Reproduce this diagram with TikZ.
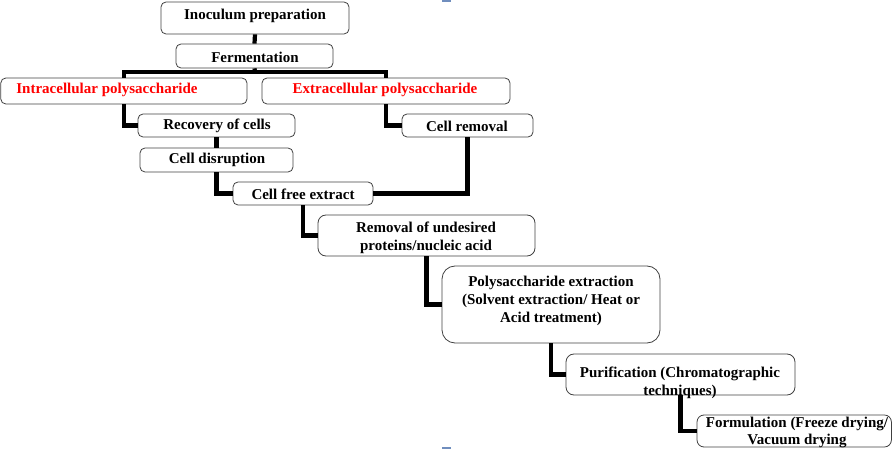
\documentclass[tikz,border=0pt]{standalone}
\usepackage{fontspec}
\setmainfont{Liberation Serif}
\usetikzlibrary{calc}
\definecolor{markblue}{RGB}{112,142,190}
\tikzset{
  box/.style={draw=black!75, line width=0.8pt, rounded corners=5pt, inner sep=0pt},
  txt/.style={font=\fontsize{15}{18}\selectfont\bfseries, align=center, inner sep=0pt, text=black},
  redtxt/.style={txt, text=red},
  conn/.style={line width=4.2pt, black},
}
\newcommand{\mkbox}[6][]{% name, x1, y1, x2, y2
  \node[box,#1, minimum width={(#5-#3)*1pt}, minimum height={(#6-#4)*1pt}] (#2) at ({(#3+#5)/2},{(#4+#6)/2}) {};}
\begin{document}
\begin{tikzpicture}[x=1pt,y=-1pt]
\useasboundingbox (0,0) rectangle (892,449);
\fill[markblue] (442,0) rectangle (451,2.5);
\fill[markblue] (442,446.5) rectangle (451,448.5);
% boxes
\mkbox{inoc}{161}{2}{349}{34}
\mkbox{ferm}{176}{44}{333}{68}
\mkbox{intra}{0.8}{78}{247}{104}
\mkbox{extra}{262}{78}{510}{104}
\mkbox{recov}{138}{114}{295}{137}
\mkbox{cellrem}{402}{114}{533}{137}
\mkbox{disr}{140}{148}{293}{172}
\mkbox{cfe}{233}{182}{373}{205}
\mkbox[rounded corners=8pt]{remov}{318}{215}{535}{256}
\mkbox[rounded corners=13pt]{poly}{442}{266}{660}{343}
\mkbox[rounded corners=8pt]{purif}{566}{354}{795}{395}
\mkbox[rounded corners=7pt]{form}{697}{415}{891.4}{447}
% texts
\node[txt] (inoc-t) at (255,16) {Inoculum preparation};
\node[txt] (ferm-t) at (255,57) {Fermentation};
\node[redtxt] (intra-t) at (107,90) {Intracellular polysaccharide};
\node[redtxt] (extra-t) at (385,90) {Extracellular polysaccharide};
\node[txt] (recov-t) at (217,126) {Recovery of cells};
\node[txt] (cellrem-t) at (467,126) {Cell removal};
\node[txt] (disr-t) at (217,160) {Cell disruption};
\node[txt] (cfe-t) at (303,194) {Cell free extract};
\node[txt] (remov-t) at (426,238) {Removal of undesired\\proteins/nucleic acid};
\node[txt] (poly-t) at (551,301) {Polysaccharide extraction\\(Solvent extraction/ Heat or\\Acid treatment)};
\node[txt] (purif-t) at (680,383) {Purification (Chromatographic\\techniques)};
\node[txt, font=\fontsize{15}{17}\selectfont\bfseries] (form-t) at (797,432) {Formulation (Freeze drying/\\Vacuum drying};
% connectors
\coordinate (bus) at (255,72);
\draw[conn] (inoc.south) -- (ferm.north);
\draw[conn] (ferm.south) -- (bus);
\draw[conn] (intra.north) |- (bus) -| (extra.north);
\draw[conn] (intra.south) |- (recov.west);
\draw[conn] (extra.south) |- (cellrem.west);
\draw[conn] (recov.south) -- (disr.north);
\draw[conn] (disr.south) |- (cfe.west);
\draw[conn] (cellrem.south) |- (cfe.east);
\draw[conn] (cfe.south) |- (remov.west);
\draw[conn] (remov.south) |- (poly.west);
\draw[conn] (poly.south) |- (purif.west);
\draw[conn] (purif.south) |- (form.west);
\end{tikzpicture}
\end{document}
